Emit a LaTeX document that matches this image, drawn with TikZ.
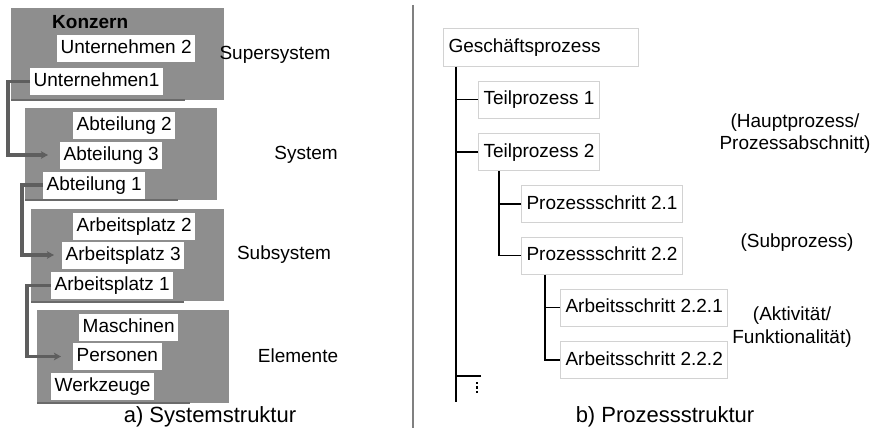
\documentclass[tikz,border=0pt]{standalone}
\usepackage{fontspec}
\setmainfont{Liberation Sans}
\usetikzlibrary{arrows.meta}
\definecolor{boxgrey}{HTML}{8E8E8E}
\definecolor{conngrey}{HTML}{5E5E5E}
\definecolor{edgegrey}{HTML}{6A6A6A}
\definecolor{frame}{HTML}{D2D2D2}
\begin{document}
\begin{tikzpicture}[x=1pt,y=-1pt,
  wbox/.style={fill=white,anchor=west,inner xsep=3.5pt,inner ysep=0pt,
    minimum height=27pt,text height=14pt,text depth=4pt,
    font=\fontsize{19}{22}\selectfont},
  pbox/.style={draw=frame,line width=1pt,fill=white,anchor=west,inner xsep=5pt,
    inner ysep=0pt,minimum height=37pt,text height=14pt,text depth=4pt,
    font=\fontsize{19}{22}\selectfont},
  lbl/.style={align=center,inner sep=0pt,font=\fontsize{19}{22.5}\selectfont},
  captext/.style={inner sep=0pt,font=\fontsize{22}{26}\selectfont},
  conn/.style={draw=conngrey,line width=3.4pt,
    -{Stealth[length=7pt,width=7.5pt,inset=1.5pt]}},
  tree/.style={draw=black,line width=1.2pt},
  edgeline/.style={draw=edgegrey,line width=2pt},
  dotmark/.style={fill=black}]
\useasboundingbox (0,0) rectangle (872,428);

% --- a) Systemstruktur: nested levels as grey panels ---
\fill[boxgrey] (11,8) rectangle (224,100);
\fill[boxgrey] (25,108) rectangle (217,200);
\fill[boxgrey] (31,209) rectangle (224,301);
\fill[boxgrey] (37,310) rectangle (229,403);
\draw[edgeline] (11,100) -- (185,100);
\draw[edgeline] (25,200) -- (178,200);
\draw[edgeline] (31,302) -- (184,302);
\draw[edgeline] (37,403) -- (190,403);

\node[anchor=west,inner sep=0pt,font=\fontsize{19}{22}\selectfont\bfseries] (K) at (52,22) {Konzern};
\node[wbox] (U2) at (57,48.5) {Unternehmen 2};
\node[wbox] (U1) at (30,81.5) {Unternehmen1};

\node[wbox] (A2) at (73,125.5) {Abteilung 2};
\node[wbox] (A3) at (60,155) {Abteilung 3};
\node[wbox] (A1) at (43,185) {Abteilung 1};

\node[wbox] (AP2) at (73,226) {Arbeitsplatz 2};
\node[wbox] (AP3) at (62,255) {Arbeitsplatz 3};
\node[wbox] (AP1) at (51,285.5) {Arbeitsplatz 1};

\node[wbox] (M) at (79,327.5) {Maschinen};
\node[wbox] (P) at (73,356.5) {Personen};
\node[wbox] (W) at (51,386.5) {Werkzeuge};

% refinement arrows from one level into the next
\draw[conn] (U1.west) -- ++(-22,0) |- ([xshift=-12pt]A3.west);
\draw[conn] (A1.west) -- ++(-21,0) |- ([xshift=-8pt]AP3.west);
\draw[conn] (AP1.west) -- ++(-24,0) |- ([xshift=-12pt]P.west);

\node[lbl] (lsup) at (275,55) {Supersystem};
\node[lbl] (lsys) at (306,155) {System};
\node[lbl] (lsub) at (284,255) {Subsystem};
\node[lbl] (lele) at (298,356) {Elemente};

\node[captext] (capa) at (210,417) {a) Systemstruktur};

% divider
\draw[draw=gray,line width=1.3pt] (413,5) -- (413,428);

% --- b) Prozessstruktur: indented tree ---
\node[pbox,minimum width=195pt,text width=185pt,align=left] (G) at (443,47.5) {Geschäftsprozess};
\node[pbox] (T1) at (478,99.5) {Teilprozess 1};
\node[pbox] (T2) at (478,152) {Teilprozess 2};
\node[pbox] (P21) at (521,204) {Prozessschritt 2.1};
\node[pbox] (P22) at (521,255.5) {Prozessschritt 2.2};
\node[pbox] (S1) at (560,307.5) {Arbeitsschritt 2.2.1};
\node[pbox] (S2) at (560,360) {Arbeitsschritt 2.2.2};

\coordinate (mainx) at ([xshift=13pt]G.south west);
\coordinate (mainend) at (456,402);
\draw[tree] (mainx) -- (mainend);
\draw[tree] (T1.west) -- (T1.west -| mainx);
\draw[tree] (T2.west) -- (T2.west -| mainx);

\coordinate (subx) at ([xshift=21pt]T2.south west);
\draw[tree] (subx) |- (P22.west);
\draw[tree] (P21.west) -- (P21.west -| subx);

\coordinate (stepx) at ([xshift=24pt]P22.south west);
\draw[tree] (stepx) |- (S2.west);
\draw[tree] (S1.west) -- (S1.west -| stepx);

% further branches continue below
\coordinate (more) at (481,376);
\draw[tree] (more) -- (more -| mainx);
\foreach \yy in {383,387.5,392}
  \fill[dotmark] (476,\yy-1.2) rectangle (478.4,\yy+1.2);

\node[lbl] (lhaupt) at (795,133.5) {(Hauptprozess/\\Prozessabschnitt)};
\node[lbl] (lsubp) at (797,243) {(Subprozess)};
\node[lbl] (lakt) at (792,327) {(Aktivität/\\Funktionalität)};

\node[captext] (capb) at (665,417) {b) Prozessstruktur};
\end{tikzpicture}
\end{document}
